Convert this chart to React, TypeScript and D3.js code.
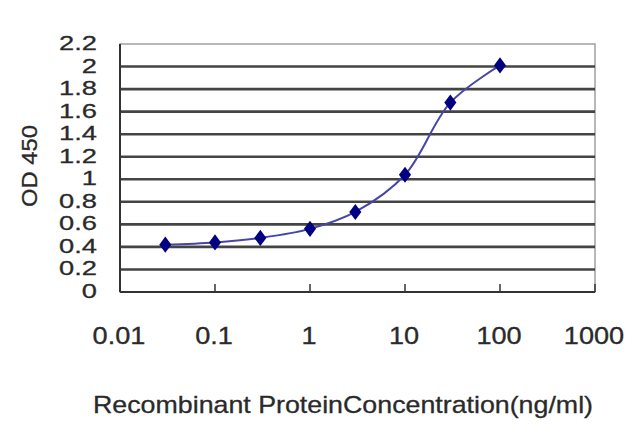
import { useEffect, useRef } from 'react';
import * as d3 from 'd3';

const concentrations = [0.03, 0.1, 0.3, 1, 3, 10, 30, 100];
const odValues = [0.42, 0.44, 0.48, 0.56, 0.71, 1.04, 1.68, 2.01];
const yTicks = [0, 0.2, 0.4, 0.6, 0.8, 1, 1.2, 1.4, 1.6, 1.8, 2, 2.2];
const xTicks = [0.01, 0.1, 1, 10, 100, 1000];

const W = 640;
const H = 427;

export default function App() {
  const ref = useRef<SVGSVGElement>(null);

  useEffect(() => {
    if (!ref.current) return;
    const svg = d3.select(ref.current);
    svg.selectAll('*').remove();

    const left = 120, right = 595, top = 44, bottom = 292;
    const x = d3.scaleLog().domain([0.01, 1000]).range([left, right]);
    const y = d3.scaleLinear().domain([0, 2.2]).range([bottom, top]);
    const font = '"Liberation Sans", Arial, sans-serif';
    const ink = '#2a2a2a';

    svg.append('rect').attr('width', W).attr('height', H).attr('fill', '#fff');

    // plot frame
    svg.append('rect')
      .attr('x', left).attr('y', top)
      .attr('width', right - left).attr('height', bottom - top)
      .attr('fill', '#fff').attr('stroke', '#a0a0a0').attr('stroke-width', 1.5);

    // gridlines
    svg.append('g').selectAll('line')
      .data(yTicks.filter(v => v > 0 && v < 2.2))
      .join('line')
      .attr('x1', left).attr('x2', right)
      .attr('y1', d => y(d)).attr('y2', d => y(d))
      .attr('stroke', '#444').attr('stroke-width', 2.6);

    // axes lines
    svg.append('line').attr('x1', left).attr('x2', left).attr('y1', top).attr('y2', bottom)
      .attr('stroke', '#333').attr('stroke-width', 2);
    svg.append('line').attr('x1', left).attr('x2', right).attr('y1', bottom).attr('y2', bottom)
      .attr('stroke', '#333').attr('stroke-width', 2.2);

    // x ticks (inward)
    svg.append('g').selectAll('line')
      .data(xTicks.slice(1))
      .join('line')
      .attr('x1', d => x(d)).attr('x2', d => x(d))
      .attr('y1', bottom - 8).attr('y2', bottom)
      .attr('stroke', '#333').attr('stroke-width', 1.5);

    // y tick labels
    svg.append('g').selectAll('text')
      .data(yTicks)
      .join('text')
      .attr('transform', d => `translate(97,${y(d) + 6}) scale(1.3,1)`)
      .attr('text-anchor', 'end')
      .attr('font-family', font).attr('font-size', 21)
      .attr('fill', ink).attr('stroke', ink).attr('stroke-width', 0.3)
      .text(d => String(d));

    // x tick labels
    svg.append('g').selectAll('text')
      .data(xTicks)
      .join('text')
      .attr('transform', d => `translate(${x(d) - 1},344) scale(1.18,1)`)
      .attr('text-anchor', 'middle')
      .attr('font-family', font).attr('font-size', 23)
      .attr('fill', ink).attr('stroke', ink).attr('stroke-width', 0.3)
      .text(d => String(d));

    // axis titles
    svg.append('text')
      .attr('x', 93).attr('y', 413)
      .attr('textLength', 500).attr('lengthAdjust', 'spacingAndGlyphs')
      .attr('font-family', font).attr('font-size', 24)
      .attr('fill', ink).attr('stroke', ink).attr('stroke-width', 0.3)
      .text('Recombinant ProteinConcentration(ng/ml)');

    svg.append('text')
      .attr('transform', 'translate(37,166) rotate(-90) scale(1.08,1)')
      .attr('text-anchor', 'middle')
      .attr('font-family', font).attr('font-size', 22)
      .attr('fill', ink).attr('stroke', ink).attr('stroke-width', 0.3)
      .text('OD 450');

    // series
    const pts = concentrations.map((c, i) => [x(c), y(odValues[i])] as [number, number]);
    svg.append('path')
      .attr('d', d3.line().curve(d3.curveCatmullRom)(pts))
      .attr('fill', 'none').attr('stroke', '#4646a8').attr('stroke-width', 2);

    const diamond = d3.symbol().type(d3.symbolDiamond).size(75);
    svg.append('g').selectAll('path')
      .data(pts)
      .join('path')
      .attr('transform', d => `translate(${d[0]},${d[1]}) scale(1.3,1)`)
      .attr('d', diamond)
      .attr('fill', '#000080');
  }, []);

  return <svg ref={ref} width={W} height={H} style={{ position: 'absolute', left: 0, top: 0 }} />;
}
